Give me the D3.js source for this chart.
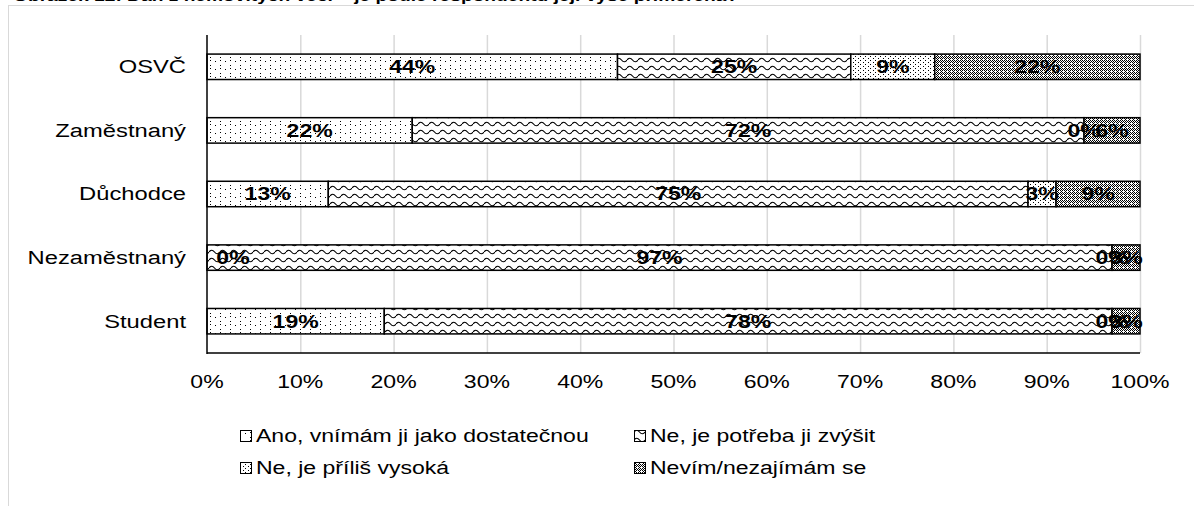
<!DOCTYPE html>
<html>
<head>
<meta charset="utf-8">
<script src="https://cdnjs.cloudflare.com/ajax/libs/d3/7.8.5/d3.min.js"></script>
<style>
  body { margin: 0; background: #fff; }
  svg { display: block; font-family: Arial, "Liberation Sans", sans-serif; }
</style>
</head>
<body>
<svg id="chart" width="1194" height="506"></svg>
<script>
// categories top -> bottom
const categories = ["OSVČ", "Zaměstnaný", "Důchodce", "Nezaměstnaný", "Student"];
const seriesNames = ["Ano, vnímám ji jako dostatečnou", "Ne, je potřeba ji zvýšit", "Ne, je příliš vysoká", "Nevím/nezajímám se"];
// values in % per category (same order as categories)
const ano = [44, 22, 13, 0, 19];
const zvysit = [25, 72, 75, 97, 78];
const vysoka = [9, 0, 3, 0, 0];
const nevim = [22, 6, 9, 3, 3];
const xTicks = [0, 10, 20, 30, 40, 50, 60, 70, 80, 90, 100];

// the source picture is stretched sideways, so text is too
const SX = 1.28;
const FS = 18;

const svg = d3.select("#chart");
const defs = svg.append("defs");

// ---- fill patterns (Excel-like) ----
function pat(id, w, h) {
    const p = defs.append("pattern").attr("id", id)
        .attr("patternUnits", "userSpaceOnUse")
        .attr("width", w).attr("height", h);
    p.append("rect").attr("width", w).attr("height", h).attr("fill", "#fff");
    return p;
}
function dots(p, pts) {
    pts.forEach(([x, y]) => p.append("rect").attr("x", x).attr("y", y)
        .attr("width", 1).attr("height", 1).attr("fill", "#000")
        .attr("shape-rendering", "crispEdges"));
}
// sparse dots
dots(pat("p0", 10, 8), [[0, 1], [5, 5], [0, 4]]);
// wave
const pw = pat("p1", 11, 8);
pw.append("path").attr("d", "M0,4 Q2.75,0.5 5.5,4 T11,4").attr("fill", "none")
    .attr("stroke", "#000").attr("stroke-width", 1.2);
// denser dots
dots(pat("p2", 5, 4), [[0, 0], [2.5, 2]]);
// small checker with holes
dots(pat("p3", 4, 4), [[0, 0], [2, 0], [1, 1], [3, 1], [0, 2], [2, 2], [1, 3]]);

const fills = ["url(#p0)", "url(#p1)", "url(#p2)", "url(#p3)"];

// place text with the sideways stretch
function put(sel, fx, fy, sx = SX) {
    return sel.attr("transform", (d, i) => `translate(${fx(d, i)},${fy(d, i)}) scale(${sx},1)`);
}

// chart frame (partly outside the picture)
svg.append("rect").attr("x", 8.5).attr("y", 5.5).attr("width", 1300).attr("height", 600)
    .attr("fill", "none").attr("stroke", "#d9d9d9");

// cut off title
svg.append("text").attr("transform", `translate(13,1) scale(${SX},1)`)
    .attr("font-size", 15).attr("font-weight", "bold").attr("fill", "#000")
    .text("Obrázek 12: Daň z nemovitých věcí – je podle respondentů její výše přiměřená?");

const x = d3.scaleLinear().domain([0, 100]).range([207, 1140]);
const y = d3.scaleBand().domain(categories).range([35, 353])
    .paddingInner(0.6).paddingOuter(0.3);

// gridlines
svg.append("g").selectAll("line").data(xTicks.slice(1)).join("line")
    .attr("x1", d => x(d) + 0.5).attr("x2", d => x(d) + 0.5)
    .attr("y1", 35).attr("y2", 353)
    .attr("stroke", "#d9d9d9").attr("stroke-width", 1.5);

// data rows
const rows = categories.map((c, i) => ({ cat: c, s0: ano[i], s1: zvysit[i], s2: vysoka[i], s3: nevim[i] }));
const stack = d3.stack().keys(["s0", "s1", "s2", "s3"])(rows);

const layers = svg.append("g").selectAll("g").data(stack).join("g")
    .attr("fill", (d, i) => fills[i]);

layers.selectAll("rect").data(d => d).join("rect")
    .attr("x", d => x(d[0]))
    .attr("width", d => x(d[1]) - x(d[0]))
    .attr("y", d => y(d.data.cat))
    .attr("height", y.bandwidth())
    .attr("stroke", "#000").attr("stroke-width", 1.5);

// data labels
const labels = svg.append("g").attr("font-size", FS).attr("font-weight", "bold")
    .attr("text-anchor", "middle").attr("fill", "#000");
stack.forEach(layer => {
    layer.forEach(d => {
        const v = d[1] - d[0];
        let cx = (x(d[0]) + x(d[1])) / 2;
        cx = Math.max(cx, x(0) + 26);
        labels.append("text")
            .attr("transform", `translate(${cx},${y(d.data.cat) + y.bandwidth() / 2}) scale(${SX},1)`)
            .attr("dy", "0.36em")
            .text(v + "%");
    });
});

// axes
svg.append("line").attr("x1", 207).attr("x2", 207).attr("y1", 35).attr("y2", 354)
    .attr("stroke", "#000").attr("stroke-width", 1.5);
svg.append("line").attr("x1", 207).attr("x2", 1140).attr("y1", 353).attr("y2", 353)
    .attr("stroke", "#000").attr("stroke-width", 1.5);

put(svg.append("g").selectAll("text").data(categories).join("text"),
    () => 186, d => y(d) + y.bandwidth() / 2, 1.32)
    .attr("dy", "0.36em")
    .attr("text-anchor", "end").attr("font-size", FS).attr("fill", "#000")
    .text(d => d);

put(svg.append("g").selectAll("text").data(xTicks).join("text"),
    d => x(d), () => 382)
    .attr("dy", "0.36em")
    .attr("text-anchor", "middle").attr("font-size", FS).attr("fill", "#000")
    .text(d => d + "%");

// legend
const legendPos = [[240, 436], [634, 436], [240, 468], [634, 468]];
const legend = svg.append("g").selectAll("g").data(seriesNames).join("g")
    .attr("transform", (d, i) => `translate(${legendPos[i][0]},${legendPos[i][1]})`);
legend.append("rect").attr("x", 0.5).attr("y", -5.5).attr("width", 11).attr("height", 11)
    .attr("fill", (d, i) => fills[i]).attr("stroke", "#000").attr("stroke-width", 1);
legend.append("text").attr("transform", `translate(16,0) scale(${SX},1)`).attr("dy", "0.36em")
    .attr("font-size", FS).attr("fill", "#000").text(d => d);
</script>
</body>
</html>
